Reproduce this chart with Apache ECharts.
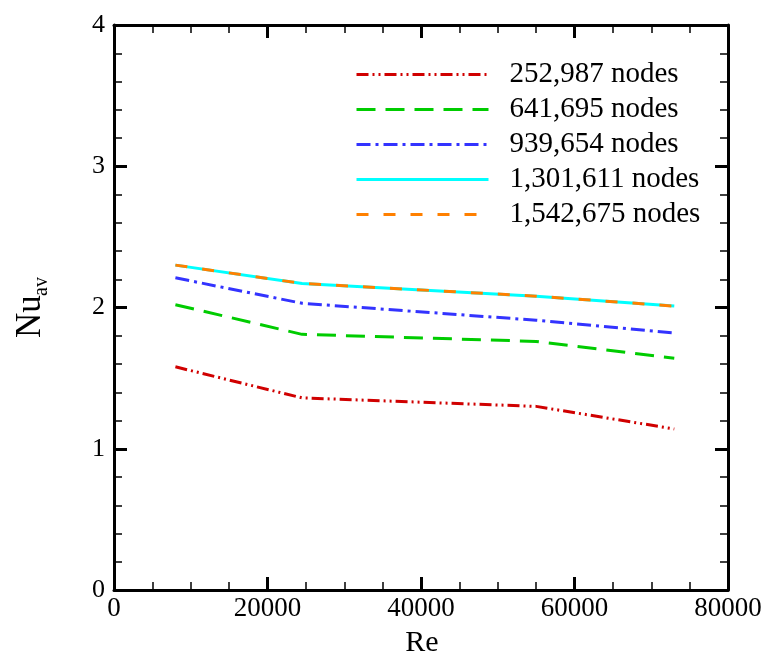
<!DOCTYPE html>
<html>
<head>
<meta charset="utf-8">
<script src="https://cdn.jsdelivr.net/npm/echarts@6/dist/echarts.min.js"></script>
<style>html,body{margin:0;padding:0;background:#fff;}#c{width:766px;height:659px;}</style>
</head>
<body>
<div id="c"></div>
<script>
var re = [8000, 24500, 55000, 73000];
var names = ['252,987 nodes', '641,695 nodes', '939,654 nodes', '1,301,611 nodes', '1,542,675 nodes'];
var nu252 = [1.58, 1.36, 1.30, 1.14];
var nu641 = [2.02, 1.81, 1.76, 1.64];
var nu939 = [2.21, 2.03, 1.91, 1.82];
var nu1301 = [2.30, 2.17, 2.08, 2.01];
var nu1542 = [2.30, 2.17, 2.08, 2.01];
var xTicks = ['0', '20000', '40000', '60000', '80000'];
var yTicks = ['0', '1', '2', '3', '4'];

var FONT = '"Liberation Serif", "Times New Roman", serif';
var colors = ['#d00000', '#00cc00', '#3333ff', '#00ffff', '#ff8000'];
var dashes = [[12, 4, 2, 4, 2, 4], [19, 10], [14, 5, 3, 5], null, [12, 15]];
var vals = [nu252, nu641, nu939, nu1301, nu1542];

function pts(v) { return re.map(function (x, i) { return [x, v[i]]; }); }

var series = names.map(function (n, i) {
  return {
    name: n, type: 'line', xAxisIndex: 0, yAxisIndex: 0,
    data: pts(vals[i]), symbol: 'none', smooth: false, silent: true,
    lineStyle: { color: colors[i], width: 3, type: dashes[i] ? dashes[i] : 'solid' },
    itemStyle: { color: colors[i] },
    z: 2 + i
  };
});

var axisCommon = {
  axisLine: { show: true, onZero: false, lineStyle: { color: '#000', width: 3 } },
  axisTick: { show: true, inside: true, length: 13, lineStyle: { color: '#000', width: 3 } },
  splitLine: { show: false }
};

function mk(base, extra) { return Object.assign({}, JSON.parse(JSON.stringify(base)), extra); }

var chart = echarts.init(document.getElementById('c'));
chart.setOption({
  animation: false,
  backgroundColor: '#fff',
  grid: { left: 114, right: 38, top: 25, bottom: 69, containLabel: false },
  xAxis: [
    mk(axisCommon, {
      type: 'value', position: 'bottom', min: 0, max: 80000, interval: 20000,
      minorTick: { show: true, splitNumber: 4, length: 8, lineStyle: { color: '#000', width: 1.5 } },
      axisLabel: { show: true, margin: 5, fontFamily: FONT, fontSize: 27, color: '#000',
        formatter: function (v) { return xTicks[Math.round(v / 20000)]; } }
    }),
    mk(axisCommon, {
      type: 'value', position: 'top', min: 0, max: 80000, interval: 20000,
      minorTick: { show: true, splitNumber: 4, length: 8, lineStyle: { color: '#000', width: 1.5 } },
      axisLabel: { show: false }
    })
  ],
  yAxis: [
    mk(axisCommon, {
      type: 'value', position: 'left', min: 0, max: 4, interval: 1,
      minorTick: { show: true, splitNumber: 5, length: 8, lineStyle: { color: '#000', width: 1.5 } },
      axisLabel: { show: true, margin: 9, fontFamily: FONT, fontSize: 26, color: '#000',
        formatter: function (v) { return yTicks[Math.round(v)]; } }
    }),
    mk(axisCommon, {
      type: 'value', position: 'right', min: 0, max: 4, interval: 1,
      minorTick: { show: true, splitNumber: 5, length: 8, lineStyle: { color: '#000', width: 1.5 } },
      axisLabel: { show: false }
    })
  ],
  legend: {
    orient: 'vertical', left: 350, top: 55,
    itemWidth: 132, itemHeight: 14, itemGap: 6,
    selectedMode: false,
    itemStyle: { opacity: 0, borderWidth: 0 },
    lineStyle: { width: 3 },
    textStyle: { fontFamily: FONT, fontSize: 29, color: '#000', lineHeight: 28, padding: [0, 0, 0, 16] },
    data: names
  },
  graphic: [
    { type: 'text', x: 422, y: 643, silent: true,
      style: { text: 'Re', fontFamily: FONT, fontSize: 30, fill: '#000', align: 'center', verticalAlign: 'middle' } },
    { type: 'group', x: 42, y: 338, rotation: Math.PI / 2, silent: true,
      children: [
        { type: 'text', x: 0, y: -11.5, style: { text: 'Nu', fontFamily: FONT, fontSize: 35, fill: '#000', align: 'left', verticalAlign: 'middle' } },
        { type: 'text', x: 42, y: 0, style: { text: 'av', fontFamily: FONT, fontSize: 20, fill: '#000', align: 'left', verticalAlign: 'middle' } }
      ] }
  ],
  series: series
});
</script>
</body>
</html>
